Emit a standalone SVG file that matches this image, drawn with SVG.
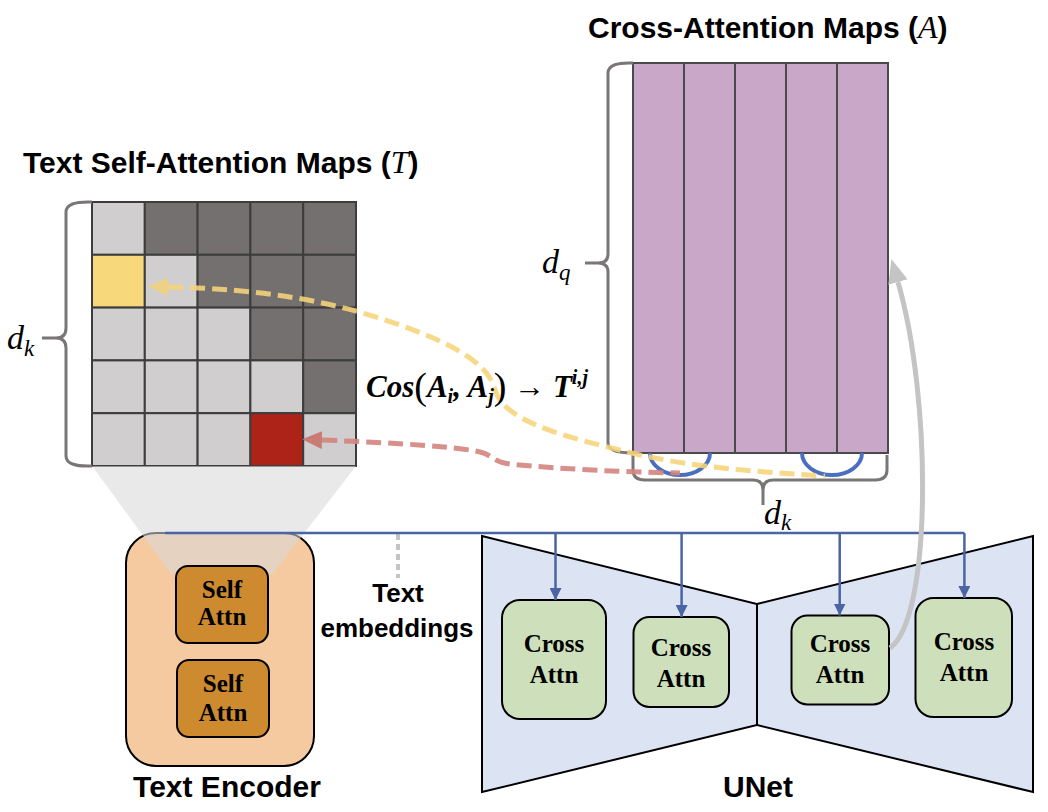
<svg xmlns="http://www.w3.org/2000/svg" width="1048" height="812" viewBox="0 0 1048 812">
<style>
.title{font-family:"Liberation Sans",Arial,sans-serif;font-weight:bold;font-size:30px;fill:#000}
.lbl{font-family:"Liberation Sans",Arial,sans-serif;font-weight:bold;font-size:26px;fill:#000}
.mi{font-family:"Liberation Serif","DejaVu Serif",serif;font-style:italic;font-weight:normal}
.box{font-family:"Liberation Serif","DejaVu Serif",serif;font-weight:bold;font-size:25px;fill:#000;text-anchor:middle}
.math{font-family:"Liberation Serif","DejaVu Serif",serif;font-weight:bold;font-style:italic;font-size:31px;fill:#000}
.cL{fill:#d0cecf;stroke:#3d3d3d;stroke-width:2}
.cD{fill:#757070;stroke:#3d3d3d;stroke-width:2}
.cY{fill:#f7d97c;stroke:#3d3d3d;stroke-width:2}
.cR{fill:#ae2318;stroke:#3d3d3d;stroke-width:2}
.col{fill:#c8a7c9;stroke:#4a4a4a;stroke-width:2}
.brace{fill:none;stroke:#7a7676;stroke-width:3}
.ca{fill:#cde0bb;stroke:#000;stroke-width:2}
.sa{fill:#cd8a2e;stroke:#000;stroke-width:2}
.blue{fill:none;stroke:#4a64a4;stroke-width:2.5}
.arc{fill:none;stroke:#4a6fc0;stroke-width:4}
</style>
<defs>
<marker id="ahB" viewBox="0 0 12 12" refX="12" refY="6" markerWidth="12" markerHeight="12" markerUnits="userSpaceOnUse" orient="auto"><path d="M0,0 L12,6 L0,12 z" fill="#4a64a4"/></marker>
<marker id="ahY" viewBox="0 0 20 18" refX="0" refY="9" markerWidth="20" markerHeight="18" markerUnits="userSpaceOnUse" orient="auto-start-reverse"><path d="M0,0 L20,9 L0,18 z" fill="#f2d27a"/></marker>
<marker id="ahR" viewBox="0 0 20 18" refX="0" refY="9" markerWidth="20" markerHeight="18" markerUnits="userSpaceOnUse" orient="auto-start-reverse"><path d="M0,0 L20,9 L0,18 z" fill="#c9746c"/></marker>
<marker id="ahG" viewBox="0 0 24 20" refX="0" refY="10" markerWidth="24" markerHeight="20" markerUnits="userSpaceOnUse" orient="auto"><path d="M0,0 L24,10 L0,20 z" fill="#c4c4c4"/></marker>
</defs>

<g id="text-self-attention-maps">
<text class="title" x="23" y="173">Text Self-Attention Maps (<tspan class="mi" font-size="32">T</tspan>)</text>
<rect class="cL" x="92" y="202" width="52.8" height="52.8"/>
<rect class="cD" x="144.8" y="202" width="52.8" height="52.8"/>
<rect class="cD" x="197.6" y="202" width="52.8" height="52.8"/>
<rect class="cD" x="250.4" y="202" width="52.8" height="52.8"/>
<rect class="cD" x="303.2" y="202" width="52.8" height="52.8"/>
<rect class="cY" x="92" y="254.8" width="52.8" height="52.8"/>
<rect class="cL" x="144.8" y="254.8" width="52.8" height="52.8"/>
<rect class="cD" x="197.6" y="254.8" width="52.8" height="52.8"/>
<rect class="cD" x="250.4" y="254.8" width="52.8" height="52.8"/>
<rect class="cD" x="303.2" y="254.8" width="52.8" height="52.8"/>
<rect class="cL" x="92" y="307.6" width="52.8" height="52.8"/>
<rect class="cL" x="144.8" y="307.6" width="52.8" height="52.8"/>
<rect class="cL" x="197.6" y="307.6" width="52.8" height="52.8"/>
<rect class="cD" x="250.4" y="307.6" width="52.8" height="52.8"/>
<rect class="cD" x="303.2" y="307.6" width="52.8" height="52.8"/>
<rect class="cL" x="92" y="360.4" width="52.8" height="52.8"/>
<rect class="cL" x="144.8" y="360.4" width="52.8" height="52.8"/>
<rect class="cL" x="197.6" y="360.4" width="52.8" height="52.8"/>
<rect class="cL" x="250.4" y="360.4" width="52.8" height="52.8"/>
<rect class="cD" x="303.2" y="360.4" width="52.8" height="52.8"/>
<rect class="cL" x="92" y="413.2" width="52.8" height="52.8"/>
<rect class="cL" x="144.8" y="413.2" width="52.8" height="52.8"/>
<rect class="cL" x="197.6" y="413.2" width="52.8" height="52.8"/>
<rect class="cR" x="250.4" y="413.2" width="52.8" height="52.8"/>
<rect class="cL" x="303.2" y="413.2" width="52.8" height="52.8"/>
<path class="brace" d="M92,202 Q66,201 66,212 L66,328 Q66,338 56,338 L42,338 M56,338 Q66,338 66,348 L66,456 Q66,467 92,466"/>
<text class="mi" font-size="34" x="7" y="349">d<tspan font-size="23" dy="7">k</tspan></text>
</g>

<g id="cross-attention-maps">
<text class="title" x="588" y="38">Cross-Attention Maps (<tspan class="mi" font-size="32">A</tspan>)</text>
<rect class="col" x="633" y="63" width="51" height="390"/>
<rect class="col" x="684" y="63" width="51" height="390"/>
<rect class="col" x="735" y="63" width="51" height="390"/>
<rect class="col" x="786" y="63" width="51" height="390"/>
<rect class="col" x="837" y="63" width="51" height="390"/>
<path class="brace" d="M633,63 Q608,62 608,73 L608,254 Q608,263 598,263 L585,263 M598,263 Q608,263 608,272 L608,443 Q608,453 633,453"/>
<text class="mi" font-size="34" x="542" y="273">d<tspan font-size="23" dy="7">q</tspan></text>
<path class="brace" d="M633,455 L633,470 Q633,480 645,480 L753,480 Q763,480 763,490 L763,505 M763,490 Q763,480 773,480 L875,480 Q887,480 887,470 L887,455"/>
<text class="mi" font-size="34" x="764" y="524">d<tspan font-size="23" dy="6">k</tspan></text>
<path class="arc" d="M650,453 A30,22 0 0 0 710,453"/>
<path class="arc" d="M802,453 A30,22 0 0 0 862,453"/>
</g>

<g id="unet">
<polygon points="482,536 757,604 757,725 482,792" fill="#dce3f3" stroke="#000" stroke-width="2"/>
<polygon points="757,604 1033,536 1033,792 757,725" fill="#dce3f3" stroke="#000" stroke-width="2"/>
<text class="title" x="758" y="797" text-anchor="middle">UNet</text>
</g>

<g id="cross-attn-1">
<rect class="ca" x="502" y="600" width="104" height="119" rx="18"/>
<text class="box" x="554" y="652">Cross</text>
<text class="box" x="554" y="683">Attn</text>
</g>
<g id="cross-attn-2">
<rect class="ca" x="633.5" y="617" width="95.5" height="90" rx="16"/>
<text class="box" x="681" y="656">Cross</text>
<text class="box" x="681" y="687">Attn</text>
</g>
<g id="cross-attn-3">
<rect class="ca" x="791.5" y="615.5" width="97.5" height="89" rx="16"/>
<text class="box" x="840" y="652">Cross</text>
<text class="box" x="840" y="683">Attn</text>
</g>
<g id="cross-attn-4">
<rect class="ca" x="915.5" y="598" width="96.5" height="119" rx="18"/>
<text class="box" x="964" y="650">Cross</text>
<text class="box" x="964" y="681">Attn</text>
</g>

<g id="text-encoder">
<rect x="126" y="533" width="188" height="233" rx="30" fill="#f5caa0" stroke="#000" stroke-width="2"/>
<polygon points="92,466 356,466 272,575 172,575" fill="#d8d8d8" opacity="0.57"/>
<text class="title" x="227" y="797" text-anchor="middle">Text Encoder</text>
</g>
<g id="self-attn-1">
<rect class="sa" x="176" y="566" width="92" height="77" rx="12"/>
<text class="box" x="222" y="598">Self</text>
<text class="box" x="222" y="625">Attn</text>
</g>
<g id="self-attn-2">
<rect class="sa" x="177" y="660" width="92" height="77" rx="12"/>
<text class="box" x="223" y="692">Self</text>
<text class="box" x="223" y="721">Attn</text>
</g>

<g id="connectors">
<path d="M398,534 L398,578" fill="none" stroke="#c4c4c4" stroke-width="4" stroke-dasharray="6,4"/>
<path class="blue" d="M165,533 H964.4"/>
<path class="blue" d="M555.5,533 V600" marker-end="url(#ahB)"/>
<path class="blue" d="M681.6,533 V617" marker-end="url(#ahB)"/>
<path class="blue" d="M839.7,533 V615.5" marker-end="url(#ahB)"/>
<path class="blue" d="M964.4,533 V598" marker-end="url(#ahB)"/>
<path d="M890,648 C932,618 932,400 898,282" fill="none" stroke="#c4c4c4" stroke-width="5" marker-end="url(#ahG)"/>
<path d="M322,440 C400,443 460,447 480,452 C495,456 492,462 510,464 C560,469 620,472 680,473" fill="none" stroke="#d4857e" stroke-width="5" stroke-dasharray="15,7" opacity="0.9" marker-start="url(#ahR)"/>
<path d="M168,287 C260,289 330,300 400,325 C470,350 490,370 495,390 C505,425 580,440 640,455 C700,468 760,472 825,476" fill="none" stroke="#f7d47a" stroke-width="5" stroke-dasharray="15,7" opacity="0.88" marker-start="url(#ahY)"/>
</g>

<g id="labels">
<text class="lbl" x="398" y="602" text-anchor="middle">Text</text>
<text class="lbl" x="397" y="637" text-anchor="middle">embeddings</text>
<text class="math" x="366" y="397">Cos<tspan font-style="normal" font-weight="normal" font-size="38" dy="2">(</tspan><tspan dy="-2">A</tspan><tspan font-size="20" dy="6">i</tspan><tspan dy="-6">, A</tspan><tspan font-size="20" dy="6">j</tspan><tspan font-style="normal" font-weight="normal" font-size="38" dy="-4">)</tspan><tspan font-style="normal" dy="-2"> → </tspan>T<tspan font-size="20" dy="-13">i,j</tspan></text>
</g>
</svg>
